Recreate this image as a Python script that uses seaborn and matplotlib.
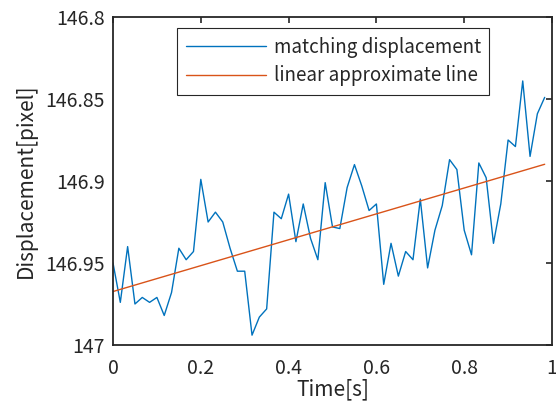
import numpy as np
import pandas as pd
import matplotlib
matplotlib.use("Agg")
import matplotlib.pyplot as plt
import seaborn as sns

# ---- data ----
time_s = [i / 60 for i in range(60)]
displacement = [
    146.950, 146.974, 146.940, 146.975, 146.971, 146.974, 146.971, 146.982, 146.968, 146.941,
    146.948, 146.943, 146.899, 146.925, 146.919, 146.925, 146.941, 146.955, 146.955, 146.994,
    146.983, 146.978, 146.919, 146.923, 146.908, 146.937, 146.914, 146.935, 146.948, 146.901,
    146.928, 146.929, 146.904, 146.890, 146.903, 146.918, 146.914, 146.963, 146.938, 146.958,
    146.943, 146.948, 146.911, 146.953, 146.930, 146.915, 146.887, 146.893, 146.930, 146.945,
    146.889, 146.898, 146.938, 146.914, 146.875, 146.879, 146.839, 146.885, 146.859, 146.849,
]
fit_time = [0.0, 59 / 60]
fit_values = [146.9674, 146.8898]

x_ticks = [0, 0.2, 0.4, 0.6, 0.8, 1]
x_ticklabels = ["0", "0.2", "0.4", "0.6", "0.8", "1"]
y_ticks = [146.8, 146.85, 146.9, 146.95, 147]
y_ticklabels = ["146.8", "146.85", "146.9", "146.95", "147"]

df_data = pd.DataFrame({"t": time_s, "v": displacement})
df_fit = pd.DataFrame({"t": fit_time, "v": fit_values})

sns.set_style("white")
plt.rcParams["font.family"] = ["Noto Sans CJK JP", "DejaVu Sans"]

fig = plt.figure(figsize=(5.56, 4.05), dpi=100)
ax = fig.add_axes([113 / 556, 1 - 345 / 405, (552 - 113) / 556, (345 - 17) / 405])

sns.lineplot(data=df_data, x="t", y="v", ax=ax, color="#0072BD", linewidth=1.0,
             label="matching displacement")
sns.lineplot(data=df_fit, x="t", y="v", ax=ax, color="#D95319", linewidth=1.0,
             label="linear approximate line")

ax.set_xlim(0, 1)
ax.set_ylim(147, 146.8)
ax.set_xticks(x_ticks)
ax.set_xticklabels(x_ticklabels)
ax.set_yticks(y_ticks)
ax.set_yticklabels(y_ticklabels)
ax.tick_params(direction="in", length=4, width=1.2, colors="#262626", labelsize=14,
               top=True, right=True, labeltop=False, labelright=False, pad=6)
ax.tick_params(axis="x", pad=9)
for lab in ax.get_xticklabels() + ax.get_yticklabels():
    lab.set_color("#262626")
for s in ax.spines.values():
    s.set_visible(True)
    s.set_color("#262626")
    s.set_linewidth(1.3)

ax.set_xlabel("Time[s]", fontsize=15, color="#262626", labelpad=0)
ax.set_ylabel("Displacement[pixel]", fontsize=15, color="#262626", labelpad=6)

leg = ax.legend(loc="upper left", bbox_to_anchor=(0.146, 0.966), fontsize=13.5,
                handlelength=4.3, handletextpad=0.4, borderpad=0.45, labelspacing=0.4,
                borderaxespad=0,
                frameon=True, fancybox=False, edgecolor="#262626", framealpha=1)
leg.get_frame().set_linewidth(0.8)

fig.savefig("out.png", dpi=100)
